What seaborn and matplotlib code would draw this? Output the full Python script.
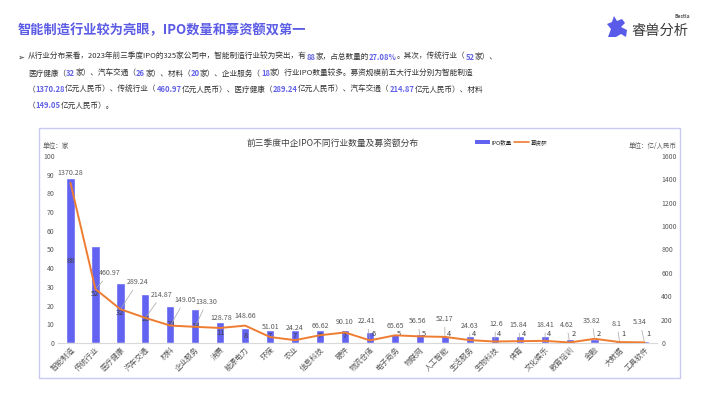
import re
import matplotlib
matplotlib.use('Agg')
import matplotlib.pyplot as plt
import seaborn as sns
import pandas as pd
from matplotlib.patches import Rectangle, Polygon
from matplotlib.lines import Line2D

# ---------------- data ----------------
categories = ['智能制造', '传统行业', '医疗健康', '汽车交通', '材料', '企业服务', '消费', '能源电力',
              '环保', '农业', '信息科技', '硬件', '物流仓储', '电子商务', '物联网', '人工智能',
              '生活服务', '生物科技', '体育', '文化娱乐', '教育培训', '金融', '大数据', '工具软件']
ipo_counts = [88, 52, 32, 26, 20, 18, 11, 8, 7, 7, 7, 7, 6, 5, 5, 4, 4, 4, 4, 4, 2, 2, 1, 1]
funds = [1370.28, 460.97, 289.24, 214.87, 149.05, 138.30, 128.78, 148.66, 51.01, 24.24, 66.62, 90.10,
         22.41, 65.65, 56.56, 52.17, 24.63, 12.6, 15.84, 18.41, 4.62, 35.82, 8.1, 5.34]
fund_labels = ['1370.28', '460.97', '289.24', '214.87', '149.05', '138.30', '128.78', '148.66', '51.01',
               '24.24', '66.62', '90.10', '22.41', '65.65', '56.56', '52.17', '24.63', '12.6', '15.84',
               '18.41', '4.62', '35.82', '8.1', '5.34']
left_ticks = [0, 10, 20, 30, 40, 50, 60, 70, 80, 90, 100]
right_ticks = [0, 200, 400, 600, 800, 1000, 1200, 1400, 1600]

main_title = '智能制造行业较为亮眼，IPO数量和募资额双第一'
chart_title = '前三季度中企IPO不同行业数量及募资额分布'
bullet_lines = [
    '从行业分布来看，2023年前三季度IPO的325家公司中，智能制造行业较为突出，有{88}家，占总数量的{27.08%}。其次，传统行业（{52}家）、',
    '医疗健康（{32}家）、汽车交通（{26}家）、材料（{20}家）、企业服务（{18}家）行业IPO数量较多。募资规模前五大行业分别为智能制造',
    '（{1370.28}亿元人民币）、传统行业（{460.97}亿元人民币）、医疗健康（{289.24}亿元人民币）、汽车交通（{214.87}亿元人民币）、材料',
    '（{149.05}亿元人民币）。',
]

# ---------------- style ----------------
BAR = '#6363F2'
ORANGE = '#EE7D31'
TITLE_C = '#5B5BE6'
HL = '#6464E8'
TXT = '#333333'
GRAY = '#595959'

# label offsets in pixels (dx, dy) and leader flags
fund_off = [(0, 10), (14.5, 16), (17.5, 27), (16.5, 23), (14.5, 25.6), (11.5, 25), (1.5, 10), (0, 10),
            (0, 10), (0, 12), (0, 9.5), (0, 10), (-3, 19), (0, 9.5), (-2, 15), (0, 17.6), (0, 14.4),
            (1, 17.5), (-1, 16), (1, 16), (-3, 17.5), (-2.5, 18), (-2.5, 18), (-4.5, 20)]
leader = [False, True, True, True, True, True, False, False, False, False, False, False, True, False,
          True, True, True, True, True, True, True, True, True, True]

sns.set_theme(style='white')
plt.rcParams['font.family'] = ['Noto Sans CJK SC', 'DejaVu Sans']
plt.rcParams['axes.unicode_minus'] = False

W, H = 710, 399
fig = plt.figure(figsize=(W / 100, H / 100), dpi=100)
fig.patch.set_facecolor('white')


def fx(px):
    return px / W


def fy(py):
    return 1 - py / H


# ---------------- texts on top ----------------
fig.text(fx(18), fy(30), main_title, fontsize=9.5, weight='bold', color=TITLE_C, va='center', ha='left')

renderer = fig.canvas.get_renderer()


def rich_line(x_px, y_px, s, size):
    x = fx(x_px)
    parts = re.split(r'(\{[^}]*\})', s)
    for p in parts:
        if not p:
            continue
        hl = p.startswith('{')
        txt = p.strip('{}')
        t = fig.text(x, fy(y_px), txt, fontsize=size, color=HL if hl else TXT,
                     weight='bold' if hl else 'normal', va='center', ha='left')
        bb = t.get_window_extent(renderer)
        x += bb.width / W


fig.text(fx(17), fy(57), '➢', fontsize=6, color=TXT, va='center', ha='left')
for line, yy in zip(bullet_lines, [57, 73.5, 90, 106]):
    rich_line(28, yy, line, 5.5)

# logo
fig.text(fx(631), fy(31), '睿兽分析', fontsize=10.3, color='#3a3a3a', va='center', ha='left')
fig.text(fx(690), fy(17), 'Bestla', fontsize=3.6, color='#555555', weight='bold', va='center', ha='right')
icon = [(608, 37), (611, 29), (607, 24), (612, 22), (614, 16), (617, 21), (622, 19), (625, 23),
        (621, 27), (627, 30), (626, 37), (621, 34), (616, 37)]
fig.add_artist(Polygon([(fx(a), fy(b)) for a, b in icon], closed=True, transform=fig.transFigure,
                       fc='#5A5AE8', ec='none'))

# panel border
fig.add_artist(Rectangle((fx(39), fy(378)), fx(680) - fx(39), fy(128) - fy(378), transform=fig.transFigure,
                         fill=False, ec='#C9C9F2', lw=1.0))

# ---------------- chart ----------------
ax = fig.add_axes([fx(58), fy(343), fx(657) - fx(58), fy(156) - fy(343)])
df = pd.DataFrame({'行业': categories, 'IPO数量': ipo_counts, '募资额': funds})
sns.barplot(data=df, x='行业', y='IPO数量', color=BAR, saturation=1, width=0.33, ax=ax)
ax.set_xlim(-0.5, len(categories) - 0.5)
ax.set_ylim(0, 100)
ax.set_yticks(left_ticks)
ax.set_yticklabels([str(t) for t in left_ticks])
ax.set_xlabel('')
ax.set_ylabel('')
for s in ['top', 'right', 'left']:
    ax.spines[s].set_visible(False)
ax.spines['bottom'].set_color('#D9D9D9')
ax.spines['bottom'].set_linewidth(0.8)
ax.tick_params(axis='y', length=0, pad=2.5, labelsize=5, labelcolor=GRAY)
ax.tick_params(axis='x', length=0, pad=2, labelsize=5.4, labelcolor=GRAY)
plt.setp(ax.get_xticklabels(), rotation=45, ha='right', rotation_mode='anchor')
ax.set_facecolor('none')

ax2 = ax.twinx()
sns.lineplot(data=df, x='行业', y='募资额', color=ORANGE, lw=1.4, ax=ax2, sort=False)
ax2.set_ylim(0, 1600)
ax2.set_yticks(right_ticks)
ax2.set_yticklabels([str(t) for t in right_ticks])
ax2.set_ylabel('')
ax2.set_xlabel('')
for s in ['top', 'right', 'left', 'bottom']:
    ax2.spines[s].set_visible(False)
ax2.tick_params(axis='y', length=0, pad=3, labelsize=5, labelcolor=GRAY)
ax2.grid(False)
ax.grid(False)

# count labels
for i, c in enumerate(ipo_counts):
    if c >= 7:
        ax.annotate(str(c), xy=(i, c / 2), ha='center', va='center', fontsize=5.3, color='#404040')
    else:
        ax.annotate(str(c), xy=(i, 0), xytext=(4, 9), textcoords='offset pixels',
                    ha='center', va='center', fontsize=5.3, color='#404040')

# fund labels
for i, (v, lab) in enumerate(zip(funds, fund_labels)):
    dx, dy = fund_off[i]
    ap = dict(arrowstyle='-', color='#A6A6A6', lw=0.5, shrinkA=0.5, shrinkB=1) if leader[i] else None
    ax2.annotate(lab, xy=(i, v), xytext=(dx, dy), textcoords='offset pixels', ha='center', va='center',
                 fontsize=5.1, color=GRAY, arrowprops=ap)

# chart titles / units
fig.text(fx(333), fy(143), chart_title, fontsize=6.3, color='#404040', ha='center', va='center')
fig.text(fx(43), fy(146), '单位：家', fontsize=4.8, color=GRAY, ha='left', va='center')
fig.text(fx(677), fy(146), '单位：亿/人民币', fontsize=4.7, color=GRAY, ha='right', va='center')

handles = [Rectangle((0, 0), 1, 1, fc=BAR, ec='none'), Line2D([0], [0], color=ORANGE, lw=1.2)]
fig.legend(handles, ['IPO数量', '募资额'], loc='center', bbox_to_anchor=(fx(511), fy(142)), ncol=2,
           frameon=False, fontsize=4.0, handlelength=2.8, handleheight=0.6, columnspacing=0.3,
           handletextpad=0.3, borderpad=0)

fig.savefig('out.png', dpi=100, facecolor='white')
